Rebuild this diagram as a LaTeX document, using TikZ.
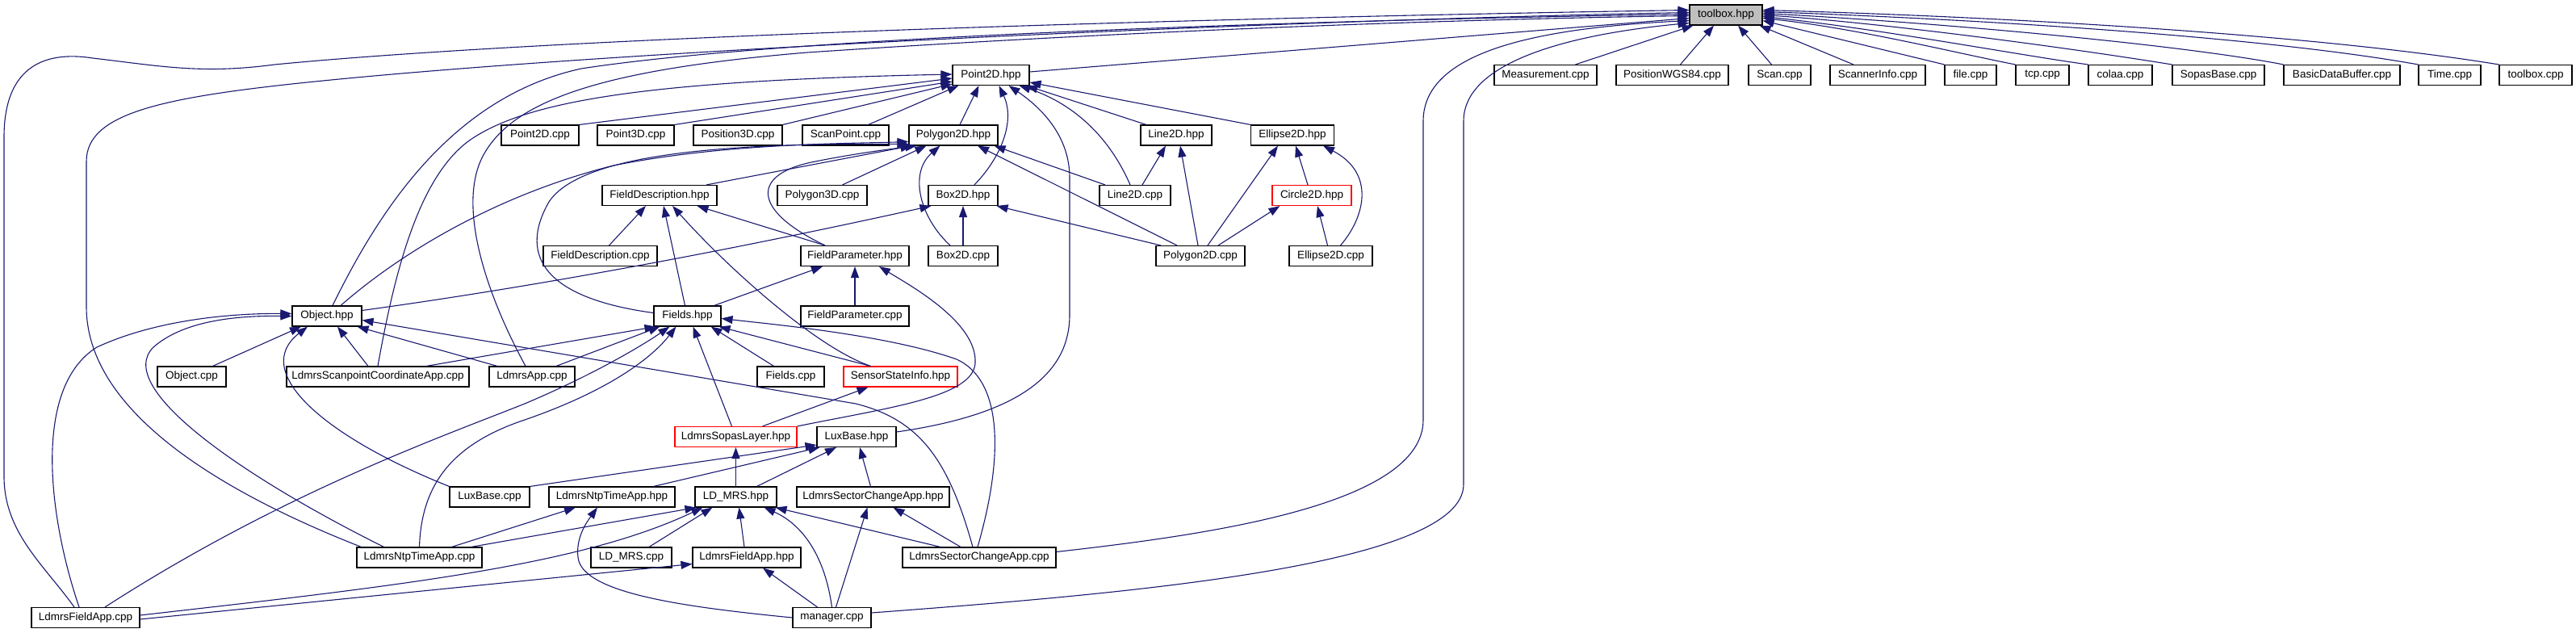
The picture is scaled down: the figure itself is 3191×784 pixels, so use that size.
\documentclass[tikz,border=0pt]{standalone}
\usepackage{fontspec}
\setmainfont{Liberation Sans}
\usetikzlibrary{arrows.meta}
\definecolor{edgec}{HTML}{191970}
\definecolor{nodegray}{HTML}{BFBFBF}
\begin{document}
\begin{tikzpicture}[x=1pt,y=-1pt,
  box/.style={draw=black, line width=1.1pt, fill=white, minimum height=25pt, inner sep=0pt, font=\fontsize{13.5}{15}\selectfont},
  redbox/.style={box, draw=red},
  dep/.style={draw=edgec, line width=1.1pt, -{Triangle[length=14pt,width=10pt]}},
]
\useasboundingbox (0,0) rectangle (3191,784);
% nodes
\node[box, fill=nodegray, minimum width=90pt] (tb) at (2138,18.5) {toolbox.hpp};
\node[box, minimum width=95pt] (p2h) at (1227.5,93) {Point2D.hpp};
\node[box, minimum width=127pt] (meas) at (1914.5,93) {Measurement.cpp};
\node[box, minimum width=139pt] (pwgs) at (2071.5,93) {PositionWGS84.cpp};
\node[box, minimum width=77pt] (scan) at (2204.5,93) {Scan.cpp};
\node[box, minimum width=118pt] (sinfo) at (2326,93) {ScannerInfo.cpp};
\node[box, minimum width=64pt] (file) at (2441,93) {file.cpp};
\node[box, minimum width=66pt] (tcp) at (2530,93) {tcp.cpp};
\node[box, minimum width=79pt] (colaa) at (2626.5,93) {colaa.cpp};
\node[box, minimum width=114pt] (sopas) at (2748,93) {SopasBase.cpp};
\node[box, minimum width=144pt] (bdb) at (2901,93) {BasicDataBuffer.cpp};
\node[box, minimum width=77pt] (time) at (3034.5,93) {Time.cpp};
\node[box, minimum width=90pt] (tbc) at (3141,93) {toolbox.cpp};
% row C
\node[box, minimum width=96pt] (p2c) at (669,167.5) {Point2D.cpp};
\node[box, minimum width=95pt] (p3c) at (787.5,167.5) {Point3D.cpp};
\node[box, minimum width=110pt] (pos3c) at (914,167.5) {Position3D.cpp};
\node[box, minimum width=107pt] (spc) at (1047.5,167.5) {ScanPoint.cpp};
\node[box, minimum width=110pt] (poly2h) at (1181,167.5) {Polygon2D.hpp};
\node[box, minimum width=88pt] (l2h) at (1457,167.5) {Line2D.hpp};
\node[box, minimum width=103pt] (e2h) at (1601,167.5) {Ellipse2D.hpp};
% row D
\node[box, minimum width=142pt] (fdh) at (817,242) {FieldDescription.hpp};
\node[box, minimum width=111pt] (poly3c) at (1018.5,242) {Polygon3D.cpp};
\node[box, minimum width=86pt] (b2h) at (1193,242) {Box2D.hpp};
\node[box, minimum width=88pt] (l2c) at (1406,242) {Line2D.cpp};
\node[redbox, minimum width=98pt] (c2h) at (1625,242) {Circle2D.hpp};
% row E
\node[box, minimum width=141pt] (fdc) at (743.5,317) {FieldDescription.cpp};
\node[box, minimum width=134pt] (fph) at (1059,317) {FieldParameter.hpp};
\node[box, minimum width=86pt] (b2c) at (1193,317) {Box2D.cpp};
\node[box, minimum width=110pt] (poly2c) at (1487,317) {Polygon2D.cpp};
\node[box, minimum width=103pt] (e2c) at (1648.5,317) {Ellipse2D.cpp};
% row F
\node[box, minimum width=86pt] (objh) at (405,391.5) {Object.hpp};
\node[box, minimum width=83pt] (fldh) at (851.5,391.5) {Fields.hpp};
\node[box, minimum width=134pt] (fpc) at (1059,391.5) {FieldParameter.cpp};
% row G
\node[box, minimum width=85pt] (objc) at (237.5,466.5) {Object.cpp};
\node[box, minimum width=226pt] (lscac) at (468,466.5) {LdmrsScanpointCoordinateApp.cpp};
\node[box, minimum width=106pt] (lac) at (659,466.5) {LdmrsApp.cpp};
\node[box, minimum width=83pt] (fldc) at (979.5,466.5) {Fields.cpp};
\node[redbox, minimum width=141pt] (ssih) at (1115.5,466.5) {SensorStateInfo.hpp};
% row H
\node[redbox, minimum width=151pt] (lslh) at (911.5,541) {LdmrsSopasLayer.hpp};
\node[box, minimum width=98pt] (lbh) at (1061,541) {LuxBase.hpp};
% row I
\node[box, minimum width=99pt] (lbc) at (606.5,615.5) {LuxBase.cpp};
\node[box, minimum width=156pt] (lnth) at (758,615.5) {LdmrsNtpTimeApp.hpp};
\node[box, minimum width=101pt] (ldh) at (911.5,615.5) {LD\_MRS.hpp};
\node[box, minimum width=189pt] (lscah) at (1081.5,615.5) {LdmrsSectorChangeApp.hpp};
% row J
\node[box, minimum width=155pt] (lntc) at (519.5,690.5) {LdmrsNtpTimeApp.cpp};
\node[box, minimum width=100pt] (ldc) at (782,690.5) {LD\_MRS.cpp};
\node[box, minimum width=134pt] (lfah) at (925,690.5) {LdmrsFieldApp.hpp};
\node[box, minimum width=190pt] (lscac2) at (1213,690.5) {LdmrsSectorChangeApp.cpp};
% row K
\node[box, minimum width=134pt] (lfac) at (106,765) {LdmrsFieldApp.cpp};
\node[box, minimum width=97pt] (mgr) at (1030.5,765) {manager.cpp};

% ---- edges into toolbox.hpp
\draw[dep] ([yshift=4pt]p2h.east) -- ([yshift=-4pt]tb.west);
\draw[dep] ([xshift=37pt]meas.north) -- ([xshift=5pt]tb.south west);
\draw[dep] ([xshift=10pt]pwgs.north) -- ([xshift=-15pt]tb.south);
\draw[dep] ([xshift=-10pt]scan.north) -- ([xshift=15pt]tb.south);
\draw[dep] ([xshift=-30pt]sinfo.north) -- ([xshift=-4pt]tb.south east);
\draw[dep] (file.north west) -- ([yshift=-7pt]tb.east);
\draw[dep] (tcp.north west) .. controls (2420,65) and (2300,35) .. ([yshift=-4pt]tb.east);
\draw[dep] (colaa.north west) .. controls (2500,68) and (2330,36) .. ([yshift=-2pt]tb.east);
\draw[dep] (sopas.north west) .. controls (2580,62) and (2350,30) .. (tb.east);
\draw[dep] (bdb.north west) .. controls (2700,55) and (2400,28) .. ([yshift=2pt]tb.east);
\draw[dep] (time.north west) .. controls (2800,45) and (2450,24) .. ([yshift=4pt]tb.east);
\draw[dep] (tbc.north west) .. controls (2850,40) and (2450,20) .. ([yshift=6pt]tb.east);
\draw[dep] ([xshift=-14pt]lfac.north) .. controls (55,700) and (5,660) .. (5,590) -- (5,170) .. controls (5,70) and (70,65) .. (115,72) .. controls (200,82) and (250,92) .. (340,80) .. controls (700,45) and (1500,22) .. ([yshift=6pt]tb.west);
\draw[dep] ([xshift=-72pt]lntc.north) .. controls (250,600) and (107,500) .. (107,380) -- (107,200) .. controls (107,140) and (200,120) .. (400,100) .. controls (800,60) and (1600,25) .. ([yshift=3pt]tb.west);
\draw[dep] ([xshift=7pt]objh.north) .. controls (470,260) and (560,120) .. (720,85) .. controls (1000,42) and (1700,24) .. ([yshift=1pt]tb.west);
\draw[dep] ([xshift=-8pt]lac.north) .. controls (600,360) and (565,250) .. (600,190) .. controls (640,120) and (760,85) .. (1000,65) .. controls (1400,38) and (1800,24) .. ([yshift=-1pt]tb.west);
\draw[dep] ([yshift=7pt]lscac2.east) .. controls (1500,662) and (1763,625) .. (1763,520) -- (1763,150) .. controls (1763,65) and (1900,35) .. ([yshift=-7pt]tb.west);
\draw[dep] ([yshift=6pt]mgr.east) .. controls (1400,735) and (1813,700) .. (1813,600) -- (1813,150) .. controls (1813,75) and (1950,42) .. ([yshift=-10pt]tb.west);
% ---- into Point2D.hpp
\draw[dep] (p2c.north east) -- ([yshift=-4pt]p2h.west);
\draw[dep] (p3c.north east) -- ([yshift=-8pt]p2h.west);
\draw[dep] (pos3c.north east) -- ([yshift=-11pt]p2h.west);
\draw[dep] ([xshift=28pt]spc.north) -- ([xshift=8pt]p2h.south west);
\draw[dep] (lscac.north) .. controls (490,330) and (520,220) .. (580,175) .. controls (650,125) and (800,100) .. ([yshift=1pt]p2h.west);
\draw[dep] ([xshift=8pt]poly2h.north) -- ([xshift=-15pt]p2h.south);
\draw[dep] ([xshift=14pt]b2h.north) .. controls (1240,195) and (1258,150) .. ([xshift=10pt]p2h.south);
\draw[dep] ([yshift=6pt]lbh.east) .. controls (1250,515) and (1325,470) .. (1325,390) -- (1325,220) .. controls (1325,165) and (1285,130) .. ([xshift=22pt]p2h.south);
\draw[dep] ([xshift=-6pt]l2c.north) .. controls (1370,160) and (1320,125) .. ([xshift=35pt]p2h.south);
\draw[dep] ([xshift=-37pt]l2h.north) -- ([xshift=-4pt]p2h.south east);
\draw[dep] (e2h.north west) -- ([yshift=-9pt]p2h.east);
% ---- into Polygon2D.hpp
\draw[dep] ([xshift=17pt]objh.north) .. controls (500,310) and (620,240) .. (760,205) .. controls (900,177) and (1050,178) .. ([yshift=-8pt]poly2h.west);
\draw[dep] ([yshift=4pt]fldh.west) .. controls (680,370) and (640,320) .. (680,250) .. controls (720,190) and (900,177) .. ([yshift=-11pt]poly2h.west);
\draw[dep] ([xshift=58pt]fdh.north) -- ([xshift=4pt]poly2h.south west);
\draw[dep] ([xshift=-37pt]fph.north) .. controls (930,260) and (930,215) .. (1010,200) .. controls (1060,190) and (1100,185) .. ([xshift=10pt]poly2h.south west);
\draw[dep] ([xshift=25pt]poly3c.north) -- ([xshift=22pt]poly2h.south west);
\draw[dep] ([xshift=-16pt]b2c.north) .. controls (1140,270) and (1125,215) .. ([xshift=39pt]poly2h.south west);
\draw[dep] ([xshift=-29pt]poly2c.north) -- ([xshift=30pt]poly2h.south);
\draw[dep] ([xshift=-37pt]l2c.north) -- ([xshift=-5pt]poly2h.south east);
% ---- Line2D, Ellipse2D, Circle2D, Box2D
\draw[dep] ([xshift=9pt]l2c.north) -- ([xshift=-13pt]l2h.south);
\draw[dep] ([xshift=-3pt]poly2c.north) -- ([xshift=5pt]l2h.south);
\draw[dep] ([xshift=9pt]poly2c.north) -- ([xshift=-18pt]e2h.south);
\draw[dep] ([xshift=-5pt]c2h.north) -- ([xshift=4pt]e2h.south);
\draw[dep] ([xshift=12pt]e2c.north) .. controls (1690,270) and (1705,215) .. ([xshift=38pt]e2h.south);
\draw[dep] ([xshift=22pt]poly2c.north) -- ([xshift=10pt]c2h.south west);
\draw[dep] ([xshift=-4pt]e2c.north) -- ([xshift=7pt]c2h.south);
\draw[dep] (b2c.north) -- (b2h.south);
\draw[dep] ([xshift=-49pt]poly2c.north) -- ([xshift=-2pt]b2h.south east);
\draw[dep] ([yshift=7pt]objh.east) .. controls (700,350) and (950,300) .. ([xshift=4pt]b2h.south west);
% ---- FieldDescription.hpp, FieldParameter.hpp
\draw[dep] ([xshift=11pt]fdc.north) -- ([xshift=-17pt]fdh.south);
\draw[dep] ([xshift=-3pt]fldh.north) -- ([xshift=5pt]fdh.south);
\draw[dep] ([xshift=-37pt]ssih.north) .. controls (1010,430) and (900,330) .. ([xshift=16pt]fdh.south);
\draw[dep] ([xshift=-37pt]fph.north) -- ([xshift=-25pt]fdh.south east);
\draw[dep] ([xshift=-9pt]fldh.north east) -- ([xshift=-40pt]fph.south);
\draw[dep] (fpc.north) -- (fph.south);
\draw[dep] (lslh.north east) .. controls (1100,505) and (1205,492) .. (1208,450) .. controls (1211,400) and (1130,355) .. ([xshift=30pt]fph.south);
% ---- Fields.hpp
\draw[dep] ([xshift=60pt]lscac.north) -- ([xshift=3pt]fldh.south west);
\draw[dep] ([xshift=30pt]lac.north) -- ([xshift=8pt]fldh.south west);
\draw[dep] ([xshift=24pt]lfac.north) .. controls (350,610) and (550,540) .. (650,500) .. controls (740,462) and (800,425) .. ([xshift=20pt]fldh.south west);
\draw[dep] (lntc.north) .. controls (522,600) and (560,550) .. (650,520) .. controls (760,482) and (810,440) .. ([xshift=28pt]fldh.south west);
\draw[dep] ([xshift=-5pt]lslh.north) -- ([xshift=7pt]fldh.south);
\draw[dep] ([xshift=-21pt]fldc.north) -- ([xshift=-13pt]fldh.south east);
\draw[dep] ([xshift=-37pt]ssih.north) -- ([xshift=-3pt]fldh.south east);
\draw[dep] ([xshift=-2pt]lscac2.north) .. controls (1245,560) and (1240,470) .. (1185,445) .. controls (1100,415) and (960,402) .. ([yshift=-3pt]fldh.east);
% ---- Object.hpp
\draw[dep] ([xshift=26pt]objc.north) -- ([xshift=-32pt]objh.south);
\draw[dep] ([xshift=-12pt]lscac.north) -- ([xshift=13pt]objh.south);
\draw[dep] ([xshift=-43pt]lac.north) -- ([xshift=-6pt]objh.south east);
\draw[dep] (lbc.north west) .. controls (400,540) and (310,460) .. ([xshift=-24pt]objh.south);
\draw[dep] ([xshift=-44pt]lntc.north) .. controls (300,590) and (140,480) .. (190,430) .. controls (230,395) and (300,391) .. (objh.west);
\draw[dep] ([xshift=-8pt]lfac.north) .. controls (60,640) and (40,480) .. (120,430) .. controls (200,393) and (300,388) .. ([yshift=3pt]objh.west);
\draw[dep] ([xshift=-8pt]lscac2.north) .. controls (1175,570) and (1140,520) .. (1060,500) -- ([yshift=-5pt]objh.east);
% ---- LuxBase.hpp, LdmrsSopasLayer.hpp, SensorStateInfo.hpp
\draw[dep] (lbc.north east) -- ([yshift=-10pt]lbh.west);
\draw[dep] ([xshift=-27pt]lnth.north east) -- ([xshift=4pt]lbh.south west);
\draw[dep] ([xshift=26pt]ldh.north) -- ([xshift=-25pt]lbh.south);
\draw[dep] ([xshift=-3pt]lscah.north) -- ([xshift=4pt]lbh.south);
\draw[dep] (ldh.north) -- (lslh.south);
\draw[dep] ([xshift=33pt]lslh.north) -- ([xshift=-40pt]ssih.south);
% ---- LdmrsNtpTimeApp.hpp
\draw[dep] ([xshift=40pt]lntc.north) -- ([xshift=-45pt]lnth.south);
\draw[dep] (mgr.west) .. controls (850,752) and (720,735) .. (716,690) .. controls (713,665) and (728,645) .. ([xshift=-18pt]lnth.south);
% ---- LD_MRS.hpp
\draw[dep] ([xshift=64pt]lntc.north) -- ([xshift=2pt]ldh.south west);
\draw[dep] ([yshift=3pt]lfac.east) .. controls (500,725) and (720,700) .. ([xshift=10pt]ldh.south west);
\draw[dep] ([xshift=22pt]ldc.north) -- ([xshift=22pt]ldh.south west);
\draw[dep] ([xshift=-3pt]lfah.north) -- ([xshift=4pt]ldh.south);
\draw[dep] (mgr.north) .. controls (1022,690) and (995,650) .. ([xshift=-16pt]ldh.south east);
\draw[dep] ([xshift=-48pt]lscac2.north) -- ([xshift=-2pt]ldh.south east);
% ---- LdmrsSectorChangeApp.hpp, LdmrsFieldApp.hpp
\draw[dep] ([xshift=-23pt]lscac2.north) -- ([xshift=25pt]lscah.south);
\draw[dep] ([xshift=5pt]mgr.north) -- ([xshift=-7pt]lscah.south);
\draw[dep] ([xshift=-18pt]mgr.north) -- ([xshift=20pt]lfah.south);
\draw[dep] ([yshift=-2pt]lfac.east) -- ([yshift=-8pt]lfah.west);
\end{tikzpicture}
\end{document}
